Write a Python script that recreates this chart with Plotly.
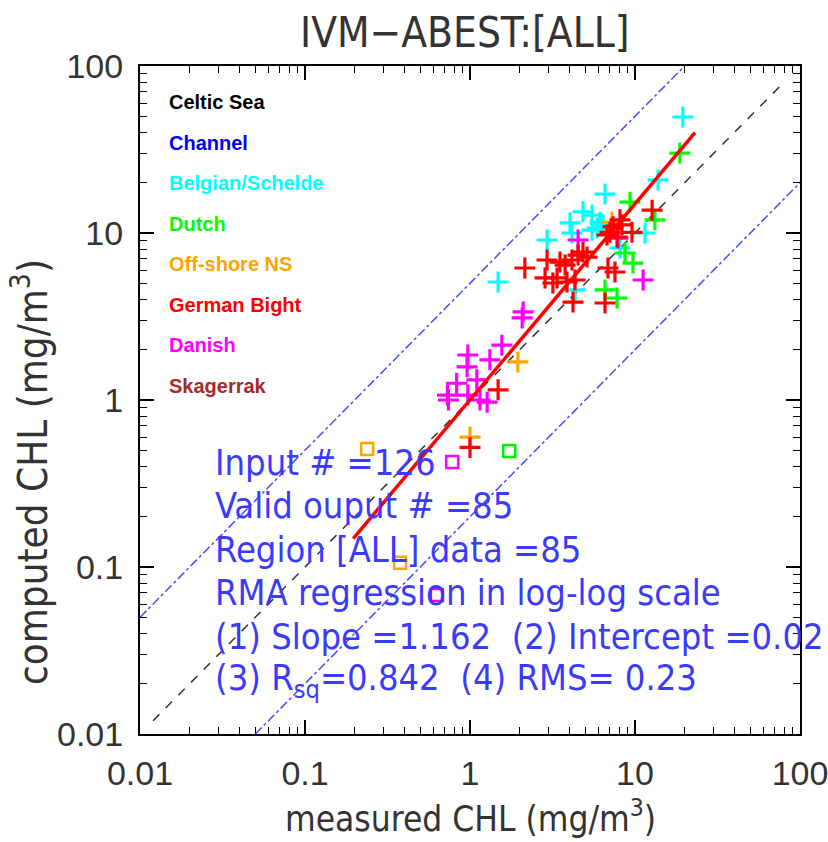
import plotly.graph_objects as go

# ---------------- data (measured, computed) ----------------
cyan_x = [19.5, 13.8, 6.58, 4.84, 5.49, 4.04, 6.14, 5.89, 6.40, 5.49, 4.15, 2.93, 11.5, 8.11, 4.33, 1.48]
cyan_y = [49.5, 20.8, 17.1, 13.4, 12.8, 11.5, 11.6, 10.7, 11.2, 10.4, 10.0, 9.08, 10.0, 8.13, 4.56, 5.09]

green_x = [18.7, 9.33, 13.2, 8.7, 9.72, 6.58, 7.78]
green_y = [30.1, 15.3, 12.0, 7.59, 6.61, 4.56, 4.08]
green_sq_x = [1.73]
green_sq_y = [0.495]

red_x = [12.7, 8.11, 7.36, 7.05, 8.34, 9.59, 7.78, 2.93, 2.15, 2.85, 3.51, 3.77, 4.15, 4.52,
         4.84, 3.37, 3.87, 6.86, 7.56, 4.21, 6.58, 3.18, 1.48, 1.0, 6.77, 5.12, 4.33]
red_y = [13.7, 12.0, 10.9, 10.1, 11.2, 10.1, 9.46, 6.89, 6.17, 5.38, 6.70, 6.43, 6.89, 7.38,
         7.69, 5.38, 5.09, 6.17, 5.84, 3.86, 3.81, 5.02, 1.15, 0.52, 9.73, 7.18, 5.23]

magenta_x = [4.52, 7.89, 11.2, 2.10, 2.07, 1.56, 1.32, 0.97, 0.96, 0.83, 0.73, 0.74, 1.10, 0.97, 1.15, 1.27]
magenta_y = [9.08, 9.33, 5.23, 3.37, 3.10, 2.13, 1.74, 1.86, 1.58, 1.26, 1.07, 1.00, 1.32, 1.07, 1.00, 0.97]
magenta_sq_x = [0.78, 0.63]
magenta_sq_y = [0.425, 0.068]

orange_x = [7.26, 1.95, 1.0]
orange_y = [11.6, 1.69, 0.60]
orange_sq_x = [0.238, 0.377]
orange_sq_y = [0.509, 0.106]

one_to_one_x = [0.012, 80]
upper_x = [0.01, 20]        # y = 5x
upper_y = [0.05, 100]
lower_x = [0.05, 100]       # y = x/5
lower_y = [0.01, 20]
reg_x = [0.196, 23.1]
reg_y = [0.148, 39.9]

legend_names = ["Celtic Sea", "Channel", "Belgian/Schelde", "Dutch", "Off-shore NS",
                "German Bight", "Danish", "Skagerrak"]
legend_colors = ["#000000", "#0000ff", "#00ffff", "#00ff00", "#ffa500",
                 "#ff0000", "#ff00ff", "#a52a2a"]

info_lines = ["Input # =126", "Valid ouput # =85", "Region [ALL] data =85",
              "RMA regression in log-log scale",
              "(1) Slope =1.162  (2) Intercept =0.02",
              "(3) R<sub>sq</sub>=0.842  (4) RMS= 0.23"]

tick_vals = [0.01, 0.1, 1, 10, 100]
tick_text = ["0.01", "0.1", "1", "10", "100"]

# ---------------- figure ----------------
FONT = "Liberation Sans Narrow, DejaVu Sans Condensed, Arial Narrow, sans-serif"
TICKFONT = "Liberation Sans, Arial, sans-serif"
L, R, T, B = 140, 28, 66, 108
PW, PH = 828 - L - R, 842 - T - B

def px(xp):
    return (xp - L) / PW

def py(yp):
    return (842 - B - yp) / PH

fig = go.Figure()

fig.add_trace(go.Scatter(x=one_to_one_x, y=one_to_one_x, mode="lines",
                         line=dict(color="#333333", width=1.5, dash="dash"), hoverinfo="skip"))
fig.add_trace(go.Scatter(x=upper_x, y=upper_y, mode="lines",
                         line=dict(color="#4a4aff", width=1.5, dash="dashdot"), hoverinfo="skip"))
fig.add_trace(go.Scatter(x=lower_x, y=lower_y, mode="lines",
                         line=dict(color="#4a4aff", width=1.5, dash="dashdot"), hoverinfo="skip"))


def plus(xs, ys, color):
    fig.add_trace(go.Scatter(x=xs, y=ys, mode="markers",
                             marker=dict(symbol="cross-thin", size=15, color=color,
                                         line=dict(color=color, width=3.2))))


def square(xs, ys, color):
    fig.add_trace(go.Scatter(x=xs, y=ys, mode="markers",
                             marker=dict(symbol="square-open", size=12, color=color,
                                         line=dict(color=color, width=2.5))))


plus(cyan_x, cyan_y, "#00ffff")
plus(green_x, green_y, "#00ff00")
plus(magenta_x, magenta_y, "#ff00ff")
plus(orange_x, orange_y, "#ffa500")
plus(red_x, red_y, "#ff0000")
square(green_sq_x, green_sq_y, "#00ee00")
square(magenta_sq_x, magenta_sq_y, "#ff00ff")
square(orange_sq_x, orange_sq_y, "#ffa500")

fig.add_trace(go.Scatter(x=reg_x, y=reg_y, mode="lines",
                         line=dict(color="#ff0000", width=3.5), hoverinfo="skip"))

minor_vals = [m * 10 ** e for e in range(-2, 2) for m in range(2, 10)]

axis_common = dict(
    type="log", range=[-2, 2], tickmode="array", tickvals=tick_vals, ticktext=tick_text,
    ticks="inside", ticklen=14, tickwidth=1.5, tickcolor="black",
    showline=True, linecolor="black", linewidth=2, mirror="allticks",
    showgrid=False, zeroline=False, ticklabeloverflow="allow", automargin=False,
    minor=dict(tickmode="array", tickvals=minor_vals, ticks="inside", ticklen=7,
               tickwidth=1.2, tickcolor="black", showgrid=False),
    tickfont=dict(family=TICKFONT, size=34, color="#333333"),
)

fig.update_layout(
    width=828, height=842, margin=dict(l=L, r=R, t=T, b=B, autoexpand=False),
    paper_bgcolor="white", plot_bgcolor="white", showlegend=False,
    xaxis=dict(axis_common, ticklabelstandoff=8),
    yaxis=dict(axis_common, ticklabelstandoff=8),
)

# title
fig.add_annotation(text="IVM\u2212ABEST:[ALL]", xref="paper", yref="paper",
                   x=px(464), y=py(32), xanchor="center", yanchor="middle", showarrow=False,
                   font=dict(family=FONT, size=42, color="#333333"))
# axis titles
fig.add_annotation(text="measured CHL (mg/m<sup>3</sup>)", xref="paper", yref="paper",
                   x=px(470), y=py(816), xanchor="center", yanchor="middle", showarrow=False,
                   font=dict(family=FONT, size=35, color="#333333"))
fig.add_annotation(text="computed CHL (mg/m<sup>3</sup>)", xref="paper", yref="paper",
                   x=px(30), y=py(472), xanchor="center", yanchor="middle", showarrow=False,
                   textangle=-90, font=dict(family=FONT, size=40, color="#333333"))

# legend text
for i, (name, col) in enumerate(zip(legend_names, legend_colors)):
    yp = 102 + i * 40.5
    fig.add_annotation(text="<b>" + name + "</b>", xref="paper", yref="paper",
                       x=px(167), y=py(yp), xanchor="left", yanchor="middle",
                       showarrow=False, font=dict(family="Liberation Sans, Arial", size=20, color=col))

# info text
for i, line in enumerate(info_lines):
    yp = 462 + i * 43.6
    fig.add_annotation(text=line, xref="paper", yref="paper",
                       x=px(213), y=py(yp), xanchor="left", yanchor="middle",
                       showarrow=False, font=dict(family=FONT, size=36, color="#3a3aff"))

fig.write_html("out.html")
